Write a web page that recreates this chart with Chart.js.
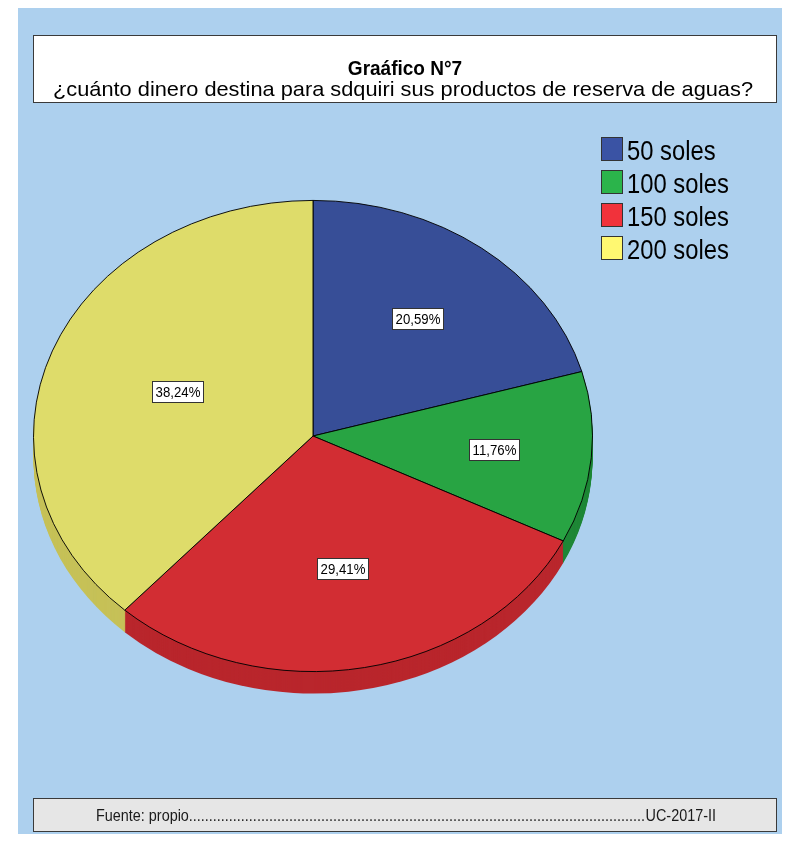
<!DOCTYPE html>
<html lang="es">
<head>
    <meta charset="UTF-8">
    <title>Gráfico N°7</title>
    <script src="https://cdn.jsdelivr.net/npm/chart.js@4.4.1/dist/chart.umd.min.js"></script>
    <style>
        body { margin: 0; background: #ffffff; }
        #wrap { width: 790px; height: 849px; }
    </style>
</head>
<body>
<div id="wrap">
    <canvas id="pie_chart" width="790" height="849"></canvas>
</div>

<script>
    // data
    const categories = ['50 soles', '100 soles', '150 soles', '200 soles'];
    const percentages = [20.59, 11.76, 29.41, 38.24];
    const percentLabels = ['20,59%', '11,76%', '29,41%', '38,24%'];
    const titleLines = ['Graáfico N°7', '¿cuánto dinero destina para sdquiri sus productos de reserva de aguas?'];
    const footerLeft = 'Fuente: propio';
    const footerRight = 'UC-2017-II';

    const sliceColors = ['#374E97', '#28A443', '#D22D33', '#DEDC6A'];
    const sideColors = ['#2B3D78', '#1F8736', '#B9262C', '#C6C158'];
    const legendColors = ['#3A53A4', '#2BB44B', '#F1323B', '#FFF871'];

    const FONT = "'Liberation Sans', Arial, sans-serif";
    const flatten = 236 / 280;  // pie is drawn as an ellipse
    const depth = 22;

    function narrowText(ctx, text, x, y, font, sx, align) {
        ctx.save();
        ctx.font = font;
        ctx.textAlign = align || 'left';
        ctx.textBaseline = 'alphabetic';
        ctx.translate(x, y);
        ctx.scale(sx, 1);
        ctx.fillText(text, 0, 0);
        ctx.restore();
    }

    function narrowWidth(ctx, text, font, sx) {
        ctx.save();
        ctx.font = font;
        const w = ctx.measureText(text).width * sx;
        ctx.restore();
        return w;
    }

    const framePlugin = {
        id: 'frame',
        beforeDraw(chart) {
            const ctx = chart.ctx;
            ctx.save();
            ctx.fillStyle = '#ffffff';
            ctx.fillRect(0, 0, chart.width, chart.height);
            ctx.fillStyle = '#ADD0EE';
            ctx.fillRect(18, 8, 764, 826);

            // title box
            ctx.fillStyle = '#ffffff';
            ctx.fillRect(33, 35, 744, 68);
            ctx.strokeStyle = '#3a3a3a';
            ctx.lineWidth = 1;
            ctx.strokeRect(33.5, 35.5, 743, 67);
            ctx.fillStyle = '#000000';
            narrowText(ctx, titleLines[0], 405, 75, 'bold 20px ' + FONT, 0.95, 'center');
            const f2 = '21px ' + FONT;
            const s2 = 700 / narrowWidth(ctx, titleLines[1], f2, 1);
            narrowText(ctx, titleLines[1], 403, 96, f2, s2, 'center');

            // footer box
            ctx.fillStyle = '#E6E6E6';
            ctx.fillRect(33, 798, 744, 34);
            ctx.strokeStyle = '#3a3a3a';
            ctx.strokeRect(33.5, 798.5, 743, 33);
            ctx.fillStyle = '#1a1a1a';
            const ff = '16px ' + FONT;
            const fx = 0.9;
            const left = 96, right = 716;
            const wl = narrowWidth(ctx, footerLeft, ff, fx);
            const wr = narrowWidth(ctx, footerRight, ff, fx);
            const wd = narrowWidth(ctx, '.', ff, fx);
            const dots = '.'.repeat(Math.max(0, Math.round((right - left - wl - wr) / wd)));
            narrowText(ctx, footerLeft + dots, left, 821, ff, fx, 'left');
            narrowText(ctx, footerRight, right, 821, ff, fx, 'right');

            // legend
            for (let i = 0; i < categories.length; i++) {
                const top = 137 + i * 33;
                ctx.fillStyle = legendColors[i];
                ctx.fillRect(601, top, 22, 24);
                ctx.strokeStyle = '#333333';
                ctx.strokeRect(601.5, top + 0.5, 21, 23);
                ctx.fillStyle = '#000000';
                narrowText(ctx, categories[i], 627, top + 23, '28px ' + FONT, 0.85, 'left');
            }
            ctx.restore();
        },
        beforeDatasetsDraw(chart) {
            const ctx = chart.ctx;
            const meta = chart.getDatasetMeta(0);
            const cy = meta.data[0].y;
            ctx.save();
            ctx.translate(0, cy);
            ctx.scale(1, flatten);
            ctx.translate(0, -cy);

            // side of the 3D pie
            for (let d = depth; d >= 1; d--) {
                const off = d / flatten;
                meta.data.forEach((arc, i) => {
                    const p = arc.getProps(['x', 'y', 'startAngle', 'endAngle', 'outerRadius'], true);
                    ctx.beginPath();
                    ctx.moveTo(p.x, p.y + off);
                    ctx.arc(p.x, p.y + off, p.outerRadius, p.startAngle, p.endAngle);
                    ctx.closePath();
                    ctx.fillStyle = sideColors[i];
                    ctx.fill();
                });
            }
        },
        afterDatasetsDraw(chart) {
            const ctx = chart.ctx;
            ctx.restore();

            const meta = chart.getDatasetMeta(0);
            const lf = '15px ' + FONT;
            const lx0 = 0.88;
            ctx.save();
            meta.data.forEach((arc, i) => {
                const p = arc.getProps(['x', 'y', 'startAngle', 'endAngle', 'outerRadius'], true);
                const mid = (p.startAngle + p.endAngle) / 2;
                const half = (p.endAngle - p.startAngle) / 2;
                // label sits on the centroid of the slice
                const r = p.outerRadius * (2 / 3) * Math.sin(half) / half;
                const lx = p.x + Math.cos(mid) * r;
                const ly = p.y + Math.sin(mid) * r * flatten;
                const w = Math.round(narrowWidth(ctx, percentLabels[i], lf, lx0) + 7);
                const h = 22;
                const bx = Math.round(lx - w / 2), by = Math.round(ly - h / 2);
                ctx.fillStyle = '#ffffff';
                ctx.fillRect(bx, by, w, h);
                ctx.strokeStyle = '#333333';
                ctx.lineWidth = 1;
                ctx.strokeRect(bx + 0.5, by + 0.5, w - 1, h - 1);
                ctx.fillStyle = '#000000';
                narrowText(ctx, percentLabels[i], bx + w / 2, by + 16, lf, lx0, 'center');
            });
            ctx.restore();
        }
    };

    const chart = new Chart(document.getElementById('pie_chart'), {
        type: 'pie',
        data: {
            labels: categories,
            datasets: [{
                data: percentages,
                backgroundColor: sliceColors,
                borderColor: '#000000',
                borderWidth: 1
            }]
        },
        options: {
            responsive: false,
            animation: false,
            events: [],
            layout: {
                padding: { left: 33, right: 197, top: 156, bottom: 133 }
            },
            plugins: {
                legend: { display: false },
                title: { display: false },
                tooltip: { enabled: false }
            }
        },
        plugins: [framePlugin]
    });
</script>
</body>
</html>
